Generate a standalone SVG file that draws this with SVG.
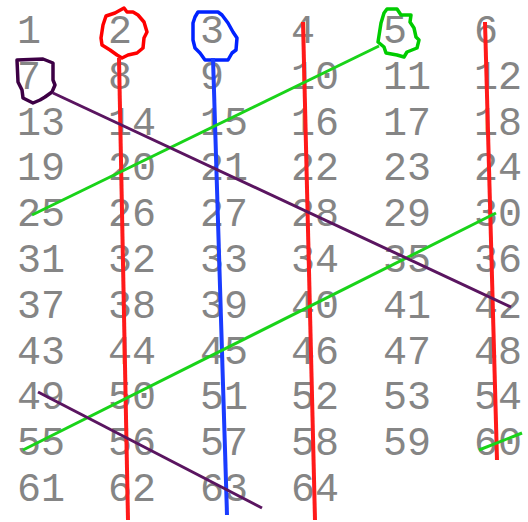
<svg xmlns="http://www.w3.org/2000/svg" width="528" height="522" viewBox="0 0 528 522">
<style>
text{font-family:"Liberation Mono","DejaVu Sans Mono",monospace;font-size:40px;fill:#858585}
.ln{fill:none;stroke-linecap:butt}
.r{stroke:#ff1a1a;stroke-width:4}
.b{stroke:#1a3cff;stroke-width:4}
.g{stroke:#19d319;stroke-width:3}
.p{stroke:#5a1560;stroke-width:3}
.c{fill:none;stroke-width:3.5;stroke-linejoin:round}
</style>
<rect width="528" height="522" fill="#fff"/>
<g id="numbers">
<text x="17" y="43">1</text><text x="108" y="43">2</text><text x="200" y="43">3</text><text x="291" y="43">4</text><text x="383" y="43">5</text><text x="474" y="43">6</text>
<text x="17" y="89">7</text><text x="108" y="89">8</text><text x="200" y="89">9</text><text x="291" y="89">10</text><text x="383" y="89">11</text><text x="474" y="89">12</text>
<text x="17" y="135">13</text><text x="108" y="135">14</text><text x="200" y="135">15</text><text x="291" y="135">16</text><text x="383" y="135">17</text><text x="474" y="135">18</text>
<text x="17" y="180">19</text><text x="108" y="180">20</text><text x="200" y="180">21</text><text x="291" y="180">22</text><text x="383" y="180">23</text><text x="474" y="180">24</text>
<text x="17" y="226">25</text><text x="108" y="226">26</text><text x="200" y="226">27</text><text x="291" y="226">28</text><text x="383" y="226">29</text><text x="474" y="226">30</text>
<text x="17" y="272">31</text><text x="108" y="272">32</text><text x="200" y="272">33</text><text x="291" y="272">34</text><text x="383" y="272">35</text><text x="474" y="272">36</text>
<text x="17" y="318">37</text><text x="108" y="318">38</text><text x="200" y="318">39</text><text x="291" y="318">40</text><text x="383" y="318">41</text><text x="474" y="318">42</text>
<text x="17" y="364">43</text><text x="108" y="364">44</text><text x="200" y="364">45</text><text x="291" y="364">46</text><text x="383" y="364">47</text><text x="474" y="364">48</text>
<text x="17" y="409">49</text><text x="108" y="409">50</text><text x="200" y="409">51</text><text x="291" y="409">52</text><text x="383" y="409">53</text><text x="474" y="409">54</text>
<text x="17" y="455">55</text><text x="108" y="455">56</text><text x="200" y="455">57</text><text x="291" y="455">58</text><text x="383" y="455">59</text><text x="474" y="455">60</text>
<text x="17" y="501">61</text><text x="108" y="501">62</text><text x="200" y="501">63</text><text x="291" y="501">64</text>
</g>
<g id="circles">
<path id="circle-2" class="c" stroke="#ff0000" d="M124,8 L115,13 L106,16 L103,25 L101,38 L102,45 L110,50 L117,55 L122,58 L128,55 L137,53 L143,48 L144,38 L147,32 L144,22 L138,15 L133,12 L127,12 Z"/>
<path id="circle-3" class="c" stroke="#0022ff" d="M198,12 L218,12 L222,15 L228,23 L233,32 L237,38 L236,50 L232,53 L228,60 L205,60 L200,53 L195,48 L193,40 L193,23 L195,17 Z"/>
<path id="circle-5" class="c" stroke="#00cc00" d="M387,9 L397,9 L401,15 L411,15 L410,22 L414,28 L416,37 L419,40 L417,48 L407,52 L404,57 L397,55 L386,53 L384,47 L378,42 L381,23 L384,13 Z"/>
<path id="circle-7" class="c" stroke="#3d0045" d="M17,60 L43,59 L53,63 L53,80 L55,85 L52,92 L45,97 L40,100 L33,103 L23,98 L22,90 L18,82 Z"/>
</g>
<g id="connectors">
<line class="ln r" x1="119" y1="58" x2="128" y2="520"/>
<line class="ln r" x1="303" y1="22" x2="315" y2="520"/>
<line class="ln r" x1="485" y1="22" x2="497" y2="460"/>
<line class="ln b" x1="213" y1="58" x2="227" y2="515"/>
<line class="ln g" x1="32" y1="215" x2="379" y2="46"/>
<line class="ln g" x1="23" y1="450" x2="496" y2="213"/>
<line class="ln g" x1="479" y1="450" x2="522" y2="433"/>
<line class="ln p" x1="53" y1="93" x2="511" y2="307"/>
<line class="ln p" x1="38" y1="392" x2="262" y2="508"/>
</g>
</svg>
